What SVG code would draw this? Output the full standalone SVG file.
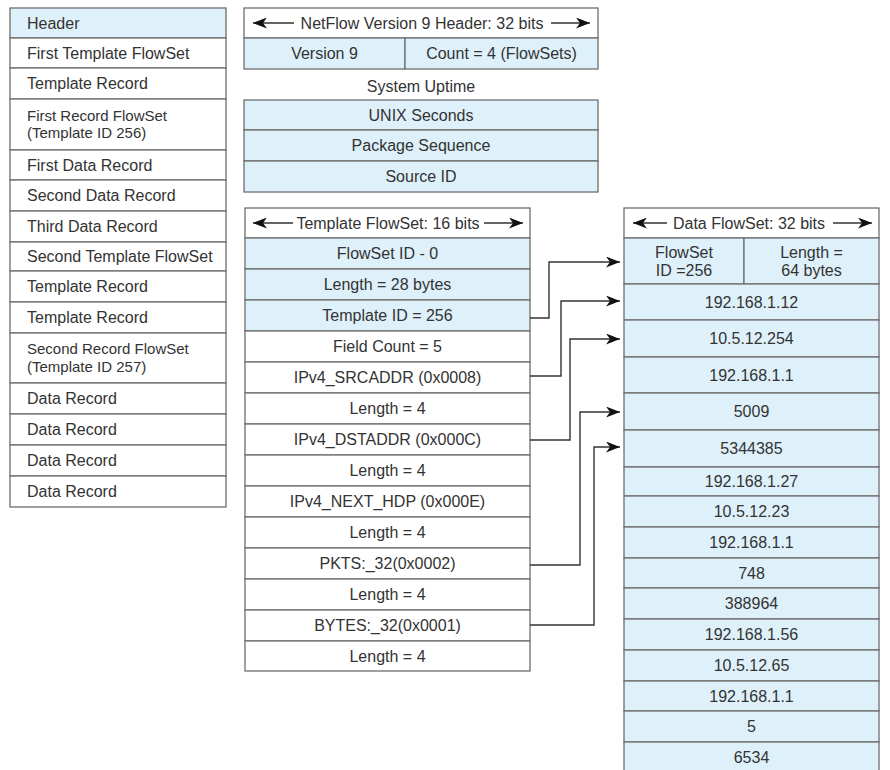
<svg xmlns="http://www.w3.org/2000/svg" width="890" height="770" viewBox="0 0 890 770">
<defs>
<style>
text{font-family:"Liberation Sans",Arial,sans-serif;font-size:16px;fill:#333;}
.c{text-anchor:middle;}
.s{font-size:15px;}
.b{fill:#def0f9;stroke:#6e6e6e;stroke-width:1.3;}
.w{fill:#ffffff;stroke:#6e6e6e;stroke-width:1.3;}
.ar{fill:none;stroke:#333;stroke-width:1.4;marker-end:url(#ah);}
</style>
<marker id="ah" markerUnits="userSpaceOnUse" markerWidth="15" markerHeight="11" refX="14" refY="5.5" orient="auto">
<path d="M0,0 L14,5.5 L0,11 L4,5.5 z" fill="#111"/>
</marker>
</defs>
<rect width="890" height="770" fill="#ffffff"/>

<g id="packet-layout">
<rect class="b" x="10" y="8" width="216" height="30"/><text x="27" y="28.5">Header</text>
<rect class="w" x="10" y="38" width="216" height="30"/><text x="27" y="58.5">First Template FlowSet</text>
<rect class="w" x="10" y="68" width="216" height="31"/><text x="27" y="89">Template Record</text>
<rect class="w" x="10" y="99" width="216" height="51"/><text class="s" x="27" y="120.5">First Record FlowSet</text><text class="s" x="27" y="138">(Template ID 256)</text>
<rect class="w" x="10" y="150" width="216" height="30"/><text x="27" y="170.5">First Data Record</text>
<rect class="w" x="10" y="180" width="216" height="31"/><text x="27" y="201">Second Data Record</text>
<rect class="w" x="10" y="211" width="216" height="31"/><text x="27" y="232">Third Data Record</text>
<rect class="w" x="10" y="242" width="216" height="29"/><text x="27" y="262">Second Template FlowSet</text>
<rect class="w" x="10" y="271" width="216" height="31"/><text x="27" y="292">Template Record</text>
<rect class="w" x="10" y="302" width="216" height="31"/><text x="27" y="323">Template Record</text>
<rect class="w" x="10" y="333" width="216" height="50"/><text class="s" x="27" y="354">Second Record FlowSet</text><text class="s" x="27" y="371.5">(Template ID 257)</text>
<rect class="w" x="10" y="383" width="216" height="31"/><text x="27" y="404">Data Record</text>
<rect class="w" x="10" y="414" width="216" height="31"/><text x="27" y="435">Data Record</text>
<rect class="w" x="10" y="445" width="216" height="31"/><text x="27" y="466">Data Record</text>
<rect class="w" x="10" y="476" width="216" height="31"/><text x="27" y="497">Data Record</text>
</g>

<g id="netflow-header">
<rect class="w" x="244" y="8" width="354" height="30"/>
<text class="c" x="422" y="28.5">NetFlow Version 9 Header: 32 bits</text>
<path class="ar" d="M294,23 H253"/>
<path class="ar" d="M551,23 H590"/>
<rect class="b" x="244" y="38" width="161" height="31"/><text class="c" x="324.5" y="59">Version 9</text>
<rect class="b" x="405" y="38" width="193" height="31"/><text class="c" x="501.5" y="59">Count = 4 (FlowSets)</text>
<text class="c" x="421" y="92">System Uptime</text>
<rect class="b" x="244" y="100" width="354" height="30"/><text class="c" x="421" y="120.5">UNIX Seconds</text>
<rect class="b" x="244" y="130" width="354" height="31"/><text class="c" x="421" y="151">Package Sequence</text>
<rect class="b" x="244" y="161" width="354" height="31"/><text class="c" x="421" y="182">Source ID</text>
</g>

<g id="template-flowset">
<rect class="w" x="245" y="208" width="285" height="30"/>
<text class="c" x="388" y="228.5">Template FlowSet: 16 bits</text>
<path class="ar" d="M293,223 H253"/>
<path class="ar" d="M484,223 H523"/>
<rect class="b" x="245" y="238" width="285" height="31"/><text class="c" x="387.5" y="259">FlowSet ID - 0</text>
<rect class="b" x="245" y="269" width="285" height="31"/><text class="c" x="387.5" y="290">Length = 28 bytes</text>
<rect class="b" x="245" y="300" width="285" height="31"/><text class="c" x="387.5" y="321">Template ID = 256</text>
<rect class="w" x="245" y="331" width="285" height="31"/><text class="c" x="387.5" y="352">Field Count = 5</text>
<rect class="w" x="245" y="362" width="285" height="31"/><text class="c" x="387.5" y="383">IPv4_SRCADDR (0x0008)</text>
<rect class="w" x="245" y="393" width="285" height="31"/><text class="c" x="387.5" y="414">Length = 4</text>
<rect class="w" x="245" y="424" width="285" height="31"/><text class="c" x="387.5" y="445">IPv4_DSTADDR (0x000C)</text>
<rect class="w" x="245" y="455" width="285" height="31"/><text class="c" x="387.5" y="476">Length = 4</text>
<rect class="w" x="245" y="486" width="285" height="31"/><text class="c" x="387.5" y="507">IPv4_NEXT_HDP (0x000E)</text>
<rect class="w" x="245" y="517" width="285" height="31"/><text class="c" x="387.5" y="538">Length = 4</text>
<rect class="w" x="245" y="548" width="285" height="31"/><text class="c" x="387.5" y="569">PKTS:_32(0x0002)</text>
<rect class="w" x="245" y="579" width="285" height="31"/><text class="c" x="387.5" y="600">Length = 4</text>
<rect class="w" x="245" y="610" width="285" height="31"/><text class="c" x="387.5" y="631">BYTES:_32(0x0001)</text>
<rect class="w" x="245" y="641" width="285" height="30"/><text class="c" x="387.5" y="661.5">Length = 4</text>
</g>

<g id="data-flowset">
<rect class="w" x="624" y="208" width="255" height="30"/>
<text class="c" x="749" y="228.5">Data FlowSet: 32 bits</text>
<path class="ar" d="M667,223 H633"/>
<path class="ar" d="M833,223 H872"/>
<rect class="b" x="624" y="238" width="120" height="46"/><text class="c" x="684" y="258">FlowSet</text><text class="c" x="684" y="276">ID =256</text>
<rect class="b" x="744" y="238" width="135" height="46"/><text class="c" x="811.5" y="258">Length =</text><text class="c" x="811.5" y="276">64 bytes</text>
<rect class="b" x="624" y="284" width="255" height="36"/><text class="c" x="751.5" y="307.5">192.168.1.12</text>
<rect class="b" x="624" y="320" width="255" height="37"/><text class="c" x="751.5" y="344">10.5.12.254</text>
<rect class="b" x="624" y="357" width="255" height="36"/><text class="c" x="751.5" y="380.5">192.168.1.1</text>
<rect class="b" x="624" y="393" width="255" height="37"/><text class="c" x="751.5" y="417">5009</text>
<rect class="b" x="624" y="430" width="255" height="37"/><text class="c" x="751.5" y="454">5344385</text>
<rect class="b" x="624" y="467" width="255" height="29"/><text class="c" x="751.5" y="487">192.168.1.27</text>
<rect class="b" x="624" y="496" width="255" height="31"/><text class="c" x="751.5" y="517">10.5.12.23</text>
<rect class="b" x="624" y="527" width="255" height="31"/><text class="c" x="751.5" y="548">192.168.1.1</text>
<rect class="b" x="624" y="558" width="255" height="30"/><text class="c" x="751.5" y="578.5">748</text>
<rect class="b" x="624" y="588" width="255" height="31"/><text class="c" x="751.5" y="609">388964</text>
<rect class="b" x="624" y="619" width="255" height="31"/><text class="c" x="751.5" y="640">192.168.1.56</text>
<rect class="b" x="624" y="650" width="255" height="31"/><text class="c" x="751.5" y="671">10.5.12.65</text>
<rect class="b" x="624" y="681" width="255" height="30"/><text class="c" x="751.5" y="701.5">192.168.1.1</text>
<rect class="b" x="624" y="711" width="255" height="31"/><text class="c" x="751.5" y="732">5</text>
<rect class="b" x="624" y="742" width="255" height="31"/><text class="c" x="751.5" y="763">6534</text>
</g>

<g id="connectors">
<path class="ar" d="M530,318 H549 V262 H620"/>
<path class="ar" d="M530,376 H561 V301 H620"/>
<path class="ar" d="M530,440 H570 V339 H620"/>
<path class="ar" d="M530,565 H580 V412 H620"/>
<path class="ar" d="M530,625 H594 V447 H620"/>
</g>
</svg>
